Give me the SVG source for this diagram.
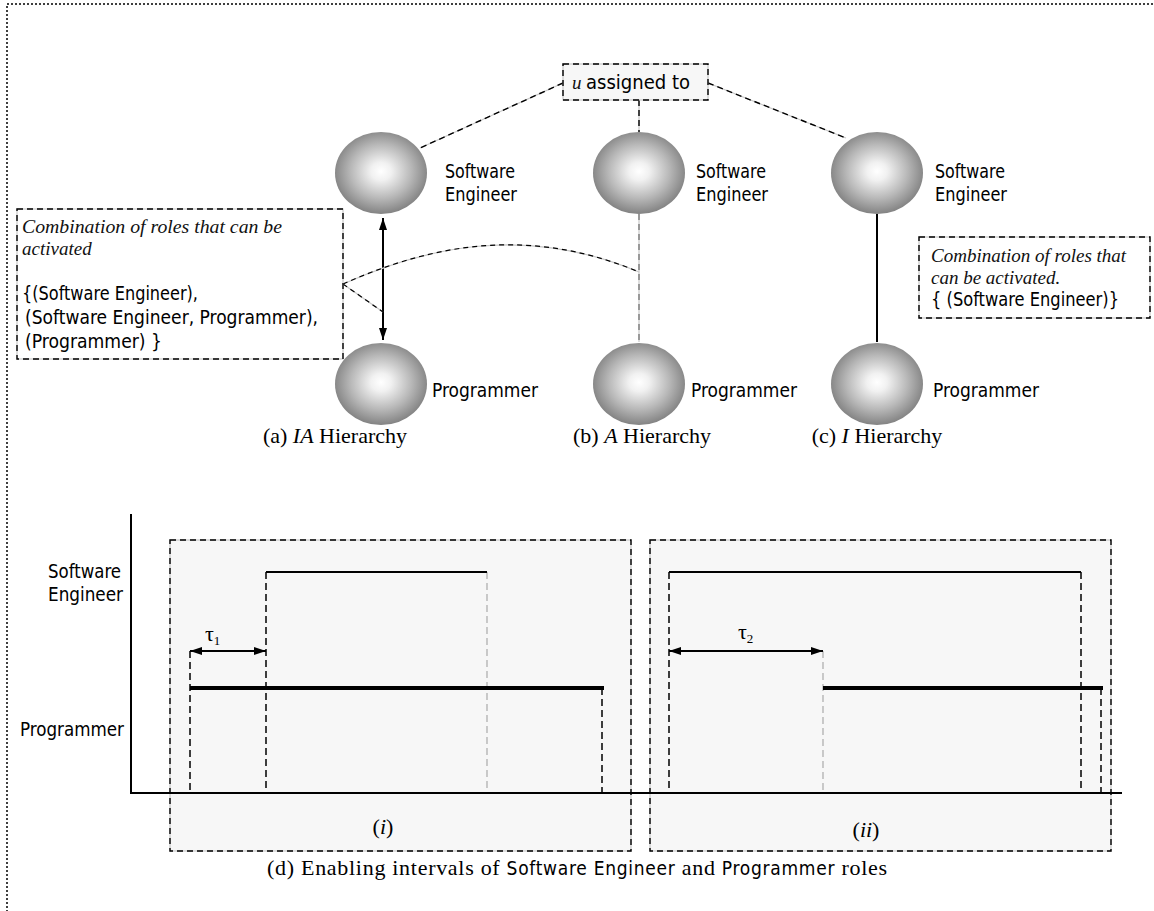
<svg xmlns="http://www.w3.org/2000/svg" width="1154" height="911" viewBox="0 0 1154 911">
<style>
.c{font-family:"DejaVu Sans Condensed","DejaVu Sans",sans-serif;font-size:19px;fill:#000}
.t{font-family:"Liberation Serif","Times New Roman",serif;font-size:22px;fill:#000}
.ti{font-family:"Liberation Serif","Times New Roman",serif;font-size:19px;font-style:italic;fill:#111}
.bg{fill:none;stroke:#c8c8c8;stroke-width:1.2}
.fg{fill:none;stroke:#000;stroke-width:1.4;stroke-dasharray:6 4}
.box{fill:#fff}
.gbox{fill:#f7f7f7}
.dv{fill:none;stroke:#000;stroke-width:1.5;stroke-dasharray:7 4}
.gv{fill:none;stroke:#aaa;stroke-width:1.2;stroke-dasharray:7 4}
.ln{fill:none;stroke:#000;stroke-width:2}
.thick{fill:none;stroke:#000;stroke-width:4}
</style>
<defs>
<radialGradient id="sph" cx="0.5" cy="0.48" r="0.55">
<stop offset="0" stop-color="#ffffff"/>
<stop offset="0.2" stop-color="#f1f1f1"/>
<stop offset="0.6" stop-color="#b8b8b8"/>
<stop offset="1" stop-color="#7a7a7a"/>
</radialGradient>
<marker id="ah" viewBox="0 0 12 8" refX="12" refY="4" markerWidth="12" markerHeight="8" markerUnits="userSpaceOnUse" orient="auto-start-reverse">
<path d="M0,0 L12,4 L0,8 z" fill="#000"/>
</marker>
</defs>
<rect width="1154" height="911" fill="#fff"/>
<rect id="frame" x="7" y="4" width="1170" height="930" fill="none" stroke="#000" stroke-width="1.5" stroke-dasharray="2 2"/>

<g id="connectors">
<line class="bg" x1="563" y1="83" x2="420" y2="148"/>
<line class="fg" x1="563" y1="83" x2="420" y2="148"/>
<line class="bg" x1="708" y1="83" x2="846" y2="138"/>
<line class="fg" x1="708" y1="83" x2="846" y2="138"/>
<line class="bg" x1="639" y1="100" x2="639" y2="132"/>
<line class="fg" x1="639" y1="100" x2="639" y2="132"/>
<line class="bg" x1="639" y1="214" x2="639" y2="342"/>
<line x1="639" y1="214" x2="639" y2="342" stroke="#555" stroke-width="1" stroke-dasharray="6 4"/>
<line class="ln" x1="383" y1="218" x2="383" y2="340" marker-start="url(#ah)" marker-end="url(#ah)"/>
<line class="ln" x1="877" y1="214" x2="877" y2="342"/>
<path class="bg" d="M343,284 C420,250 520,222 639,272"/>
<path d="M343,284 C420,250 520,222 639,272" fill="none" stroke="#000" stroke-width="1.2" stroke-dasharray="5 4"/>
<line class="bg" x1="343" y1="284" x2="383" y2="312"/>
<line x1="343" y1="284" x2="383" y2="312" stroke="#000" stroke-width="1.2" stroke-dasharray="5 4"/>
</g>

<g id="assigned">
<rect x="563" y="64" width="145" height="36" fill="#f7f7f7"/>
<rect class="bg" x="563" y="64" width="145" height="36"/>
<rect class="fg" x="563" y="64" width="145" height="36" stroke-width="1.2"/>
<text class="ti" x="572" y="89" font-size="18">u</text>
<text class="c" x="586" y="89" textLength="104" lengthAdjust="spacingAndGlyphs">assigned to</text>
</g>

<g id="se1"><ellipse cx="381" cy="173" rx="46" ry="41" fill="url(#sph)"/><text class="c" x="445" y="178" textLength="70" lengthAdjust="spacingAndGlyphs">Software</text><text class="c" x="445" y="201" textLength="72" lengthAdjust="spacingAndGlyphs">Engineer</text></g>
<g id="se2"><ellipse cx="639" cy="173" rx="46" ry="41" fill="url(#sph)"/><text class="c" x="696" y="178" textLength="70" lengthAdjust="spacingAndGlyphs">Software</text><text class="c" x="696" y="201" textLength="72" lengthAdjust="spacingAndGlyphs">Engineer</text></g>
<g id="se3"><ellipse cx="877" cy="173" rx="46" ry="41" fill="url(#sph)"/><text class="c" x="935" y="178" textLength="70" lengthAdjust="spacingAndGlyphs">Software</text><text class="c" x="935" y="201" textLength="72" lengthAdjust="spacingAndGlyphs">Engineer</text></g>
<g id="p1"><ellipse cx="381" cy="384" rx="46" ry="41" fill="url(#sph)"/><text class="c" x="432" y="397" textLength="106" lengthAdjust="spacingAndGlyphs">Programmer</text></g>
<g id="p2"><ellipse cx="639" cy="384" rx="46" ry="41" fill="url(#sph)"/><text class="c" x="691" y="397" textLength="106" lengthAdjust="spacingAndGlyphs">Programmer</text></g>
<g id="p3"><ellipse cx="877" cy="384" rx="46" ry="41" fill="url(#sph)"/><text class="c" x="933" y="397" textLength="106" lengthAdjust="spacingAndGlyphs">Programmer</text></g>

<g id="note-ia">
<rect class="box" x="17" y="209" width="326" height="150"/>
<rect class="bg" x="17" y="209" width="326" height="150"/>
<rect class="fg" x="17" y="209" width="326" height="150" stroke-width="1.2"/>
<text class="ti" x="22" y="233" textLength="260" lengthAdjust="spacingAndGlyphs">Combination of roles that can be</text>
<text class="ti" x="22" y="255">activated</text>
<text class="c" x="22" y="300" textLength="176" lengthAdjust="spacingAndGlyphs">{(Software Engineer),</text>
<text class="c" x="25" y="324" textLength="293" lengthAdjust="spacingAndGlyphs">(Software Engineer, Programmer),</text>
<text class="c" x="25" y="348" textLength="137" lengthAdjust="spacingAndGlyphs">(Programmer) }</text>
</g>

<g id="note-i">
<rect class="box" x="919" y="237" width="231" height="81"/>
<rect class="bg" x="919" y="237" width="231" height="81"/>
<rect class="fg" x="919" y="237" width="231" height="81" stroke-width="1.2"/>
<text class="ti" x="931" y="262">Combination of roles that</text>
<text class="ti" x="931" y="284">can be activated.</text>
<text class="c" x="931" y="306" textLength="188" lengthAdjust="spacingAndGlyphs">{ (Software Engineer)}</text>
</g>

<g id="captions">
<text class="t" x="335" y="443" text-anchor="middle">(a) <tspan font-style="italic">IA</tspan> Hierarchy</text>
<text class="t" x="642" y="443" text-anchor="middle">(b) <tspan font-style="italic">A</tspan> Hierarchy</text>
<text class="t" x="877" y="443" text-anchor="middle">(c) <tspan font-style="italic">I</tspan> Hierarchy</text>
</g>

<g id="chart">
<rect class="gbox" x="170" y="540" width="461" height="311"/>
<rect class="bg" x="170" y="540" width="461" height="311"/>
<rect class="fg" x="170" y="540" width="461" height="311"/>
<rect class="gbox" x="650" y="540" width="461" height="311"/>
<rect class="bg" x="650" y="540" width="461" height="311"/>
<rect class="fg" x="650" y="540" width="461" height="311"/>

<line class="ln" x1="131" y1="514" x2="131" y2="794"/>
<line class="ln" x1="130" y1="793" x2="1122" y2="793"/>
<text class="c" x="48" y="578" textLength="73" lengthAdjust="spacingAndGlyphs">Software</text>
<text class="c" x="48" y="601" textLength="75" lengthAdjust="spacingAndGlyphs">Engineer</text>
<text class="c" x="20" y="736" textLength="104" lengthAdjust="spacingAndGlyphs">Programmer</text>

<line class="dv" x1="190" y1="651" x2="190" y2="792"/>
<line class="dv" x1="266" y1="572" x2="266" y2="792"/>
<line class="gv" x1="487" y1="572" x2="487" y2="792"/>
<line class="dv" x1="602" y1="688" x2="602" y2="792"/>
<polyline class="ln" points="266,572 487,572"/>
<line class="thick" x1="190" y1="688" x2="604" y2="688"/>
<line class="ln" x1="190" y1="651" x2="266" y2="651" marker-start="url(#ah)" marker-end="url(#ah)"/>
<text class="t" x="205" y="641">τ<tspan font-size="13" dy="4">1</tspan></text>
<text class="t" x="383" y="834" text-anchor="middle">(<tspan font-style="italic">i</tspan>)</text>

<line class="dv" x1="669" y1="572" x2="669" y2="792"/>
<line class="dv" x1="1081" y1="572" x2="1081" y2="792"/>
<line class="gv" x1="823" y1="651" x2="823" y2="792"/>
<line class="dv" x1="1101" y1="688" x2="1101" y2="792"/>
<polyline class="ln" points="669,572 1081,572"/>
<line class="thick" x1="823" y1="688" x2="1103" y2="688"/>
<line class="ln" x1="669" y1="651" x2="823" y2="651" marker-start="url(#ah)" marker-end="url(#ah)"/>
<text class="t" x="738" y="639">τ<tspan font-size="13" dy="4">2</tspan></text>
<text class="t" x="866" y="837" text-anchor="middle">(<tspan font-style="italic">ii</tspan>)</text>

<text class="t" x="267" y="875" font-size="21" textLength="620" lengthAdjust="spacing">(d) Enabling intervals of <tspan class="c" font-size="19">Software Engineer</tspan> and <tspan class="c" font-size="19">Programmer</tspan> roles</text>
</g>
</svg>
